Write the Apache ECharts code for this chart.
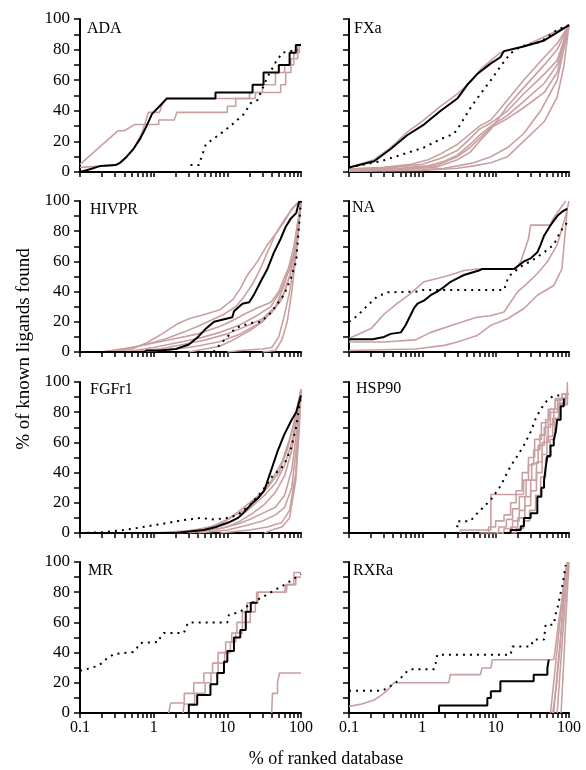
<!DOCTYPE html>
<html><head><meta charset="utf-8">
<script src="https://cdn.jsdelivr.net/npm/echarts@6/dist/echarts.min.js"></script>
<style>html,body{margin:0;padding:0;background:#fff}#c{width:586px;height:770px}</style>
</head><body><div id="c"></div><script>
// ---------- data ----------
const panelNames = ['ADA','FXa','HIVPR','NA','FGFr1','HSP90','MR','RXRa'];
const xTickLabels = [0.1, 1, 10, 100];
const xTickValues = [0.1,0.2,0.3,0.4,0.5,0.6,0.7,0.8,0.9,1,2,3,4,5,6,7,8,9,10,20,30,40,50,60,70,80,90,100];
const yTickLabels = [0,20,40,60,80,100];

// ADA
const ADA_black = [[0.1,0],[0.14,2],[0.19,4],[0.3,4.5],[0.35,6],[0.43,10],[0.53,15],[0.66,22],[0.8,30],[0.95,38],[1.2,43],[1.5,48],[6.9,48],[6.9,52],[22,52],[22,57],[31,57],[31,65],[50,65],[50,70],[70,70],[70,78],[85,78],[85,83],[100,83]];
const ADA_dotted = [[3.16,4.5],[4.1,4.5],[5.1,18],[5.6,19.5],[8.1,25],[12.3,32],[16.9,38],[20.8,45],[25.7,47],[35,62],[45.7,72],[56,78],[73,79],[90,80]];
const ADA_pink1 = [[0.1,5],[0.33,27],[0.4,27],[0.55,31],[1.17,31],[1.17,34],[1.9,34],[2.07,39],[10,39],[10,43],[13,43],[13,48],[24,48],[24,52],[53,52],[53,57],[62,57],[62,65],[73,65],[73,74],[90,74],[90,83],[100,83]];
const ADA_pink2 = [[0.1,3],[0.32,4.5],[0.4,8],[0.55,16],[0.7,26],[0.8,35],[0.85,39],[1.2,39],[1.3,44],[1.5,48],[20,48],[20,52],[30,52],[30,57],[45,57],[45,65],[60,65],[60,70],[80,70],[80,78],[95,78],[95,83],[100,83]];

// FXa
const FXa_black = [[0.1,3],[0.22,7],[0.37,15],[0.62,24],[1.05,31],[1.78,40],[3,48],[4.1,57],[5.6,64],[8.6,71],[11.6,75],[12.9,79],[24,82],[46,86],[100,96]];
const FXa_dotted = [[0.1,3],[0.27,7],[0.46,10.5],[1.05,16],[1.78,21.5],[2.7,25],[3.3,31],[4.55,42],[6.2,51],[8.6,60],[11.6,69],[15.9,77.5],[22,82],[41,85],[69,93],[100,96]];
const FXa_pink1 = [[0.1,3],[0.22,8],[0.37,16],[0.62,26],[1.05,34],[1.78,43],[3,51],[4.55,59],[6.2,67],[8.6,73],[11.6,78],[24,82],[100,96]];
const FXa_pink2 = [[0.1,2],[0.3,3],[0.7,5],[1.2,8],[1.8,12],[3,18],[4.5,25],[6,30],[8.6,34],[14.5,47],[24,60],[46,75],[69,84],[100,96]];
const FXa_pink3 = [[0.1,2],[0.4,3],[1,5],[1.8,9],[3,14],[4.5,22],[6,28],[8.6,32],[14.5,40],[24,51],[46,64],[69,73],[100,96]];
const FXa_pink4 = [[0.1,1.5],[0.5,2.5],[1.2,4],[2,7],[3,11],[4.5,18],[6,24],[8.6,30],[14.5,37],[24,46],[46,58],[69,70],[100,96]];
const FXa_pink5 = [[0.1,1],[0.6,2],[1.5,3],[3,8],[4.5,13],[6,20],[8.6,28],[14.5,43],[24,55],[46,70],[69,80],[100,96]];
const FXa_pink6 = [[0.1,1],[1,1.5],[2,2.5],[3,4],[5,6],[8.6,10],[14.5,16],[24,25],[41,40],[69,60],[100,96]];
const FXa_pink7 = [[0.1,0.5],[1,1],[3,2.5],[5,4],[8.6,6],[14.5,10],[24,20],[46,33],[69,49],[85,69],[100,96]];
const FXa_pink8 = [[0.1,1.5],[0.5,2],[1.5,4],[3,10],[4.5,16],[6,22],[8.6,29],[14.5,35],[24,42],[46,52],[69,65],[100,96]];

// HIVPR
const HIVPR_black = [[0.1,0],[0.75,0],[0.8,1],[1.2,1],[2,2],[3,5],[4,10],[5,15],[6.6,20],[11.7,23],[12.3,27],[16,32],[19.8,33],[23,38],[28.6,47],[35,55],[43,66],[53,75],[62,83],[73,88.5],[86,92],[95,100]];
const HIVPR_dotted = [[6.5,0],[7.3,3],[10,10],[13,16],[20,19],[28.6,20],[39,26],[59,38],[73,49],[86,60],[100,100]];
const HIVPR_pink1 = [[0.3,0],[0.5,2],[0.8,6],[1.3,12],[2,18],[3,22],[5,25],[8,28],[12,35],[15,42],[18.8,51],[25.6,60],[35,71],[48,80],[59,86],[73,94],[86,98],[100,100]];
const HIVPR_pink2 = [[0.2,0],[0.4,2],[0.8,5],[1.5,9],[2.5,13],[4,17],[6,21],[9,25],[13,30],[17,37],[22,45],[28,55],[35,66],[45,78],[60,88],[80,96],[100,100]];
const HIVPR_pink3 = [[0.2,0],[0.5,3],[1,6],[2,9],[4,12],[8,17],[12,21],[16.9,25],[25,29],[39,33],[50,40],[59,49],[70,57],[81,64],[90,80],[100,100]];
const HIVPR_pink4 = [[0.4,0],[1,3],[2,6],[4,9],[8,13],[15,18],[25,24],[39,30],[55,42],[70,55],[85,70],[100,100]];
const HIVPR_pink5 = [[0.5,0],[1.2,2],[2.5,5],[5,8],[10,12],[18,17],[30,22],[45,30],[60,40],[75,55],[90,75],[100,100]];
const HIVPR_pink6 = [[0.6,0],[2,2],[4,4],[8,7],[15,12],[25,18],[40,26],[55,35],[70,50],[85,70],[100,100]];
const HIVPR_pink7 = [[3,0],[5,2],[8,4],[12,8],[20,14],[30,20],[45,30],[60,45],[80,70],[100,100]];
const HIVPR_pink8 = [[10,0],[15,1],[30,2],[40,3],[50,10],[60,25],[70,40],[85,65],[100,100]];
const HIVPR_pink9 = [[30,0],[45,1],[55,8],[65,20],[75,40],[88,70],[100,100]];

// NA
const NA_black = [[0.1,8.4],[0.21,8.4],[0.3,10],[0.37,12],[0.51,13],[0.59,17.7],[0.77,29],[0.86,32],[1.05,34],[1.3,37.6],[1.6,40],[1.97,43],[2.43,46.5],[3,48.7],[3.7,51],[4.8,52.7],[5.9,54],[6.6,55],[17.8,55],[24.3,60],[30,62],[37,66],[41,71],[45.7,77],[56,84],[69,90],[81,93],[95,95]];
const NA_dotted = [[0.1,20],[0.13,24],[0.18,31],[0.24,36.5],[0.33,39.5],[0.85,40],[1,41],[13,41],[15,50],[20,55],[24.3,58],[30,60],[37,63],[45.7,66],[62,71],[77,80],[95,86]];
const NA_pink1 = [[0.1,9],[0.2,15.5],[0.3,25],[0.45,32],[0.65,37.6],[1.05,46.5],[1.6,48.7],[2.4,51],[3.7,54],[5.6,55],[19,55],[22,60],[28,75],[30,84],[56,84],[60,88],[90,100]];
const NA_pink2 = [[0.1,6.6],[0.3,6.6],[0.8,8],[1.3,13],[3,18.8],[5.5,23],[8.5,24],[13,26.5],[20,40],[25,44],[37,52],[51,60],[69,71],[90,90],[100,100]];
const NA_pink3 = [[0.1,1],[0.8,2],[2,4.4],[3,6.6],[5.6,11],[8.6,17.7],[14.5,22],[24.3,28.8],[37,37.6],[62,44],[80,55],[95,95]];

// FGFr1
const FGFr1_black = [[0.1,0],[2,0],[3,1],[4.8,2],[7,4],[11,7.5],[14,10],[17,14],[22,20],[26,23],[31.6,28],[39,41],[48,54],[59,65],[73,74],[86,80],[100,91]];
const FGFr1_dotted = [[0.1,0],[0.2,0.5],[0.43,2.2],[0.81,4.4],[1.52,6.6],[2.3,8.2],[4.3,10],[6.6,9],[10,10],[14,12],[20.8,19],[30,28],[40,37],[59,45],[73,56],[86,70],[100,91]];
const FGFr1_pink1 = [[1,0],[3,1.5],[6,4],[10,9],[14,14],[20,20],[30,27],[40,35],[55,47],[70,62],[85,78],[100,95]];
const FGFr1_pink2 = [[1.5,0],[4,2],[8,6],[12,11],[18,16],[25,22],[35,30],[50,40],[65,55],[80,72],[100,95]];
const FGFr1_pink3 = [[2,0],[5,2],[10,6],[15,11],[22,18],[32,25],[45,33],[60,45],[75,60],[90,80],[100,95]];
const FGFr1_pink4 = [[2,0],[6,2],[10,4],[15,8],[22,13],[32,19],[45,27],[60,38],[75,55],[90,78],[100,95]];
const FGFr1_pink5 = [[3,0],[8,3],[14,6],[20,9],[30,13],[45,17],[60,25],[75,42],[90,72],[100,95]];
const FGFr1_pink6 = [[4,0],[10,2],[18,5],[30,8],[45,12],[60,17],[75,30],[88,60],[100,95]];
const FGFr1_pink7 = [[8,0],[20,2],[35,4],[55,7],[70,15],[85,40],[100,95]];
const FGFr1_pink8 = [[32,0],[40,2],[55,4],[70,10],[85,35],[95,70],[100,95]];

// HSP90
const HSP90_black = [[13,0],[16,2],[22,4.4],[24.3,10],[30,13],[37,24],[42,30],[45.7,35],[48,43],[50.7,51],[56,58],[62,62],[66,67],[69,75],[77,84],[85,89]];
const HSP90_dotted = [[3,3.8],[3,7.8],[4.5,7.8],[5.6,13],[8.6,22],[11.6,31],[15.9,44],[19.7,51],[24.3,58],[30,67],[35,75.5],[41,82],[50.7,88],[62,91],[85,91]];
const HSP90_pink1 = [[3.3,0],[3.3,2],[8.6,25.5],[22,25.5],[24,35],[28,45],[33,55],[40,65],[48,75],[55,82],[65,88],[80,92],[95,100]];
const HSP90_pink2 = [[6,0],[8,4],[10,8],[13,12],[16,20],[19,28],[23,40],[28,50],[34,62],[42,73],[52,82],[65,89],[80,92],[100,92]];
const HSP90_pink3 = [[8,0],[11,4],[14,9],[17,16],[21,24],[26,35],[31,46],[38,58],[46,70],[56,80],[70,89],[90,92]];
const HSP90_pink4 = [[10,0],[13,3],[17,8],[21,15],[25,24],[30,35],[36,47],[43,60],[52,72],[62,82],[75,89],[95,95]];
const HSP90_pink5 = [[12,0],[16,4],[20,10],[25,18],[30,28],[36,40],[43,52],[50,64],[60,76],[72,86],[90,92]];
const HSP90_pink6 = [[15,0],[19,3],[24,8],[29,15],[35,25],[41,37],[48,50],[55,62],[64,75],[75,85],[95,92]];

// MR
const MR_black = [[2.7,0],[3.0,5.5],[3.9,12],[5.9,19],[7.3,26.5],[9,34],[10,41],[12.3,50],[15,55],[17.8,67],[20.8,73],[25.7,73]];
const MR_dotted = [[0.1,28],[0.13,29.4],[0.16,30.7],[0.2,33],[0.23,36],[0.29,39],[0.53,40.4],[0.59,43],[0.66,46.4],[1.17,47],[1.23,50],[1.37,53],[2.57,53],[2.85,58.5],[3,60],[10,60],[10.5,65],[15,67],[20,72],[60,85],[100,92]];
const MR_pink1 = [[1.6,0],[1.7,6.6],[2.6,13],[3.5,20],[4.8,26.5],[6.3,33],[7.5,40],[9.5,47],[11.5,53],[13.5,60],[16,67],[18.5,73],[25,80],[60,80],[62,85],[80,85],[80,93],[100,93]];
const MR_pink2 = [[2.5,0],[2.6,6],[3.6,13],[5,20],[6,26.5],[7.5,33],[9.2,40],[11,47],[13,53],[16,60],[20.5,67],[24,73],[26,80],[63,80],[65,85],[85,85],[85,90],[100,90]];
const MR_pink3 = [[40,0],[41,13],[48,20],[51,26.5],[100,26.5]];

// RXRa
const RXRa_black = [[1.69,0],[1.69,4.9],[7.7,10],[8.6,14.4],[11.6,21],[33,25.4],[50.7,29.8],[53,35.3]];
const RXRa_dotted = [[0.1,14.8],[0.285,14.8],[0.37,18],[0.46,21],[0.62,27.6],[0.69,29],[1.44,29],[1.52,33],[1.6,38.6],[16,38.6],[16.9,44],[30,44],[33,48.6],[45.7,48.6],[48,58.5],[62,58.5],[66,66],[70,70],[77,79.5],[82,85],[90,98]];
const RXRa_pink1 = [[0.1,4.4],[0.15,6],[0.22,8.6],[0.28,12],[0.33,15],[0.41,20],[2.3,20],[2.4,25.4],[6.2,25.4],[6.5,29.8],[8.6,29.8],[9,35.3],[62,35.3],[66,45],[72,60],[80,75],[90,95],[96,100]];
const RXRa_pink2 = [[56,0],[65,30],[75,60],[85,85],[95,100]];
const RXRa_pink3 = [[62,0],[70,30],[80,60],[88,85],[98,100]];
const RXRa_pink4 = [[69,0],[75,25],[83,55],[92,85],[100,100]];
const RXRa_pink5 = [[78,0],[84,30],[90,60],[96,85],[100,98]];
const RXRa_pink6 = [[60,0],[68,20],[76,45],[84,75],[92,95]];

// ---------- panels ----------
const panels = [
  {black:ADA_black, dotted:ADA_dotted, pinks:[ADA_pink1,ADA_pink2], step:false},
  {black:FXa_black, dotted:FXa_dotted, pinks:[FXa_pink1,FXa_pink2,FXa_pink3,FXa_pink4,FXa_pink5,FXa_pink6,FXa_pink7,FXa_pink8], step:false},
  {black:HIVPR_black, dotted:HIVPR_dotted, pinks:[HIVPR_pink1,HIVPR_pink2,HIVPR_pink3,HIVPR_pink4,HIVPR_pink5,HIVPR_pink6,HIVPR_pink7,HIVPR_pink8,HIVPR_pink9], step:false},
  {black:NA_black, dotted:NA_dotted, pinks:[NA_pink1,NA_pink2,NA_pink3], step:false},
  {black:FGFr1_black, dotted:FGFr1_dotted, pinks:[FGFr1_pink1,FGFr1_pink2,FGFr1_pink3,FGFr1_pink4,FGFr1_pink5,FGFr1_pink6,FGFr1_pink7,FGFr1_pink8], step:false},
  {black:HSP90_black, dotted:HSP90_dotted, pinks:[HSP90_pink1,HSP90_pink2,HSP90_pink3,HSP90_pink4,HSP90_pink5,HSP90_pink6], step:true, stepPink:true},
  {black:MR_black, dotted:MR_dotted, pinks:[MR_pink1,MR_pink2,MR_pink3], step:true, stepPink:true},
  {black:RXRa_black, dotted:RXRa_dotted, pinks:[RXRa_pink1,RXRa_pink2,RXRa_pink3,RXRa_pink4,RXRa_pink5,RXRa_pink6], step:true, stepPink:false}
];

const FONT = 'Liberation Serif';
const PINK = '#c9a0a0';
const gridLeft = [80, 349], gridWidth = [221, 220];
const gridTop = [19, 201, 382, 562], gridHeight = [153, 151, 151, 151];
const labelPos = [[87,21],[354,21],[90,202],[352,200],[90,382],[356,381],[88,563],[353,563]];

const grids = [], xAxes = [], yAxes = [], series = [], graphics = [];
panels.forEach((p, i) => {
  const row = Math.floor(i / 2), col = i % 2;
  grids.push({left: gridLeft[col], width: gridWidth[col], top: gridTop[row], height: gridHeight[row]});
  xAxes.push({
    type: 'log', logBase: 10, min: 0.1, max: 100, gridIndex: i,
    axisLine: {show: true, lineStyle: {color: '#000', width: 2}},
    axisTick: {show: true, length: 5, lineStyle: {color: '#000', width: 1.5}, customValues: xTickValues},
    minorTick: {show: false},
    axisLabel: {show: row === 3, customValues: xTickLabels, fontFamily: FONT, fontSize: 16, color: '#000', margin: 7,
      formatter: v => String(+Number(v).toPrecision(3))},
    splitLine: {show: false}
  });
  yAxes.push({
    type: 'value', min: 0, max: 100, interval: 10, gridIndex: i,
    axisLine: {show: true, lineStyle: {color: '#000', width: 2}},
    axisTick: {show: true, length: 6, lineStyle: {color: '#000', width: 1.5}},
    axisLabel: {show: col === 0, fontFamily: FONT, fontSize: 17, color: '#000', margin: 10,
      formatter: v => (yTickLabels.indexOf(v) >= 0 ? String(v) : '')},
    splitLine: {show: false}
  });
  p.pinks.forEach(d => series.push({
    type: 'line', xAxisIndex: i, yAxisIndex: i, data: d, symbol: 'none', silent: true,
    step: p.stepPink ? 'end' : false, z: 2,
    lineStyle: {color: PINK, width: 1.6}
  }));
  series.push({
    type: 'line', xAxisIndex: i, yAxisIndex: i, data: p.dotted, symbol: 'none', silent: true, z: 3,
    lineStyle: {color: '#000', width: 2, type: [2, 5]}
  });
  series.push({
    type: 'line', xAxisIndex: i, yAxisIndex: i, data: p.black, symbol: 'none', silent: true,
    step: p.step ? 'end' : false, z: 4,
    lineStyle: {color: '#000', width: 2}
  });
  graphics.push({type: 'text', x: labelPos[i][0], y: labelPos[i][1], z: 10,
    style: {text: panelNames[i], fontFamily: FONT, fontSize: 16, fill: '#000', verticalAlign: 'top'}});
});

graphics.push({type: 'text', x: 24, y: 349, rotation: Math.PI / 2, z: 10,
  style: {text: '% of known ligands found', fontFamily: FONT, fontSize: 19, fill: '#000', align: 'center', verticalAlign: 'middle'}});
graphics.push({type: 'text', x: 326, y: 759, z: 10,
  style: {text: '% of ranked database', fontFamily: FONT, fontSize: 18, fill: '#000', align: 'center', verticalAlign: 'middle'}});

const chart = echarts.init(document.getElementById('c'), null, {renderer: 'canvas'});
chart.setOption({
  animation: false, backgroundColor: '#fff',
  grid: grids, xAxis: xAxes, yAxis: yAxes, series: series, graphic: graphics
});
</script></body></html>
